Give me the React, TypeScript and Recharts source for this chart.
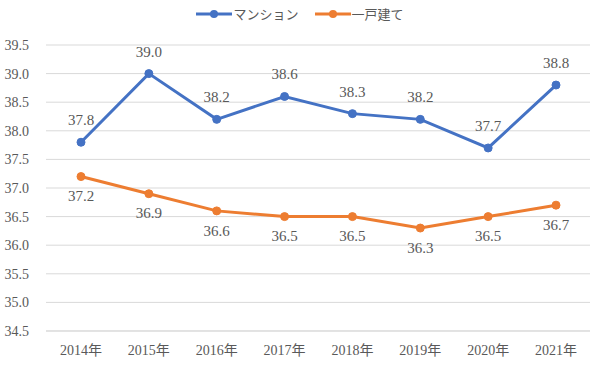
import { LineChart, Line, XAxis, YAxis, CartesianGrid, LabelList } from 'recharts';

const years = ['2014年', '2015年', '2016年', '2017年', '2018年', '2019年', '2020年', '2021年'];
const mansion = [37.8, 39.0, 38.2, 38.6, 38.3, 38.2, 37.7, 38.8];
const detached = [37.2, 36.9, 36.6, 36.5, 36.5, 36.3, 36.5, 36.7];
const yTicks = [34.5, 35.0, 35.5, 36.0, 36.5, 37.0, 37.5, 38.0, 38.5, 39.0, 39.5];

const data = years.map((y, i) => ({ name: y, mansion: mansion[i], detached: detached[i] }));

const BLUE = '#4472C4';
const ORANGE = '#ED7D31';
const TEXT = '#595959';
const FONT = '"Liberation Serif", "Noto Sans CJK JP", serif';

function LegendItem({ color, label }: { color: string; label: string }) {
  return (
    <span style={{ display: 'inline-flex', alignItems: 'center', margin: '0 8px' }}>
      <svg width={36} height={12}>
        <line x1={0} y1={6} x2={36} y2={6} stroke={color} strokeWidth={3} />
        <circle cx={18} cy={6} r={4} fill={color} />
      </svg>
      <span style={{ fontFamily: '"Noto Sans CJK JP", sans-serif', fontSize: 13, color: TEXT, marginLeft: 1 }}>{label}</span>
    </span>
  );
}

export default function App() {
  return (
    <div style={{ position: 'absolute', left: 0, top: 0, width: 600, height: 370, background: '#fff' }}>
      <div style={{ position: 'absolute', top: 5, left: 0, width: 600, textAlign: 'center', lineHeight: '18px' }}>
        <LegendItem color={BLUE} label="マンション" />
        <LegendItem color={ORANGE} label="一戸建て" />
      </div>
      <LineChart width={600} height={370} data={data} margin={{ top: 45, right: 10, bottom: 9, left: 0 }}>
        <CartesianGrid vertical={false} stroke="#d9d9d9" />
        <XAxis
          dataKey="name"
          axisLine={{ stroke: '#d9d9d9' }}
          tickLine={false}
          height={30}
          padding={{ left: 35, right: 34 }}
          tick={{ fill: TEXT, fontSize: 14, fontFamily: FONT }}
          tickMargin={8}
        />
        <YAxis
          domain={[34.5, 39.5]}
          ticks={yTicks}
          width={46}
          axisLine={false}
          tickLine={false}
          tickFormatter={(v: number) => v.toFixed(1)}
          tick={{ fill: TEXT, fontSize: 14, fontFamily: FONT }}
          tickMargin={11}
        />
        <Line dataKey="mansion" stroke={BLUE} strokeWidth={3} dot={{ r: 4, fill: BLUE, stroke: BLUE, strokeWidth: 1 }} isAnimationActive={false}>
          <LabelList dataKey="mansion" position="top" offset={17} formatter={(v: number) => v.toFixed(1)} style={{ fill: TEXT, fontSize: 15, fontFamily: FONT }} />
        </Line>
        <Line dataKey="detached" stroke={ORANGE} strokeWidth={3} dot={{ r: 4, fill: ORANGE, stroke: ORANGE, strokeWidth: 1 }} isAnimationActive={false}>
          <LabelList dataKey="detached" position="bottom" offset={14} formatter={(v: number) => v.toFixed(1)} style={{ fill: TEXT, fontSize: 15, fontFamily: FONT }} />
        </Line>
      </LineChart>
    </div>
  );
}
